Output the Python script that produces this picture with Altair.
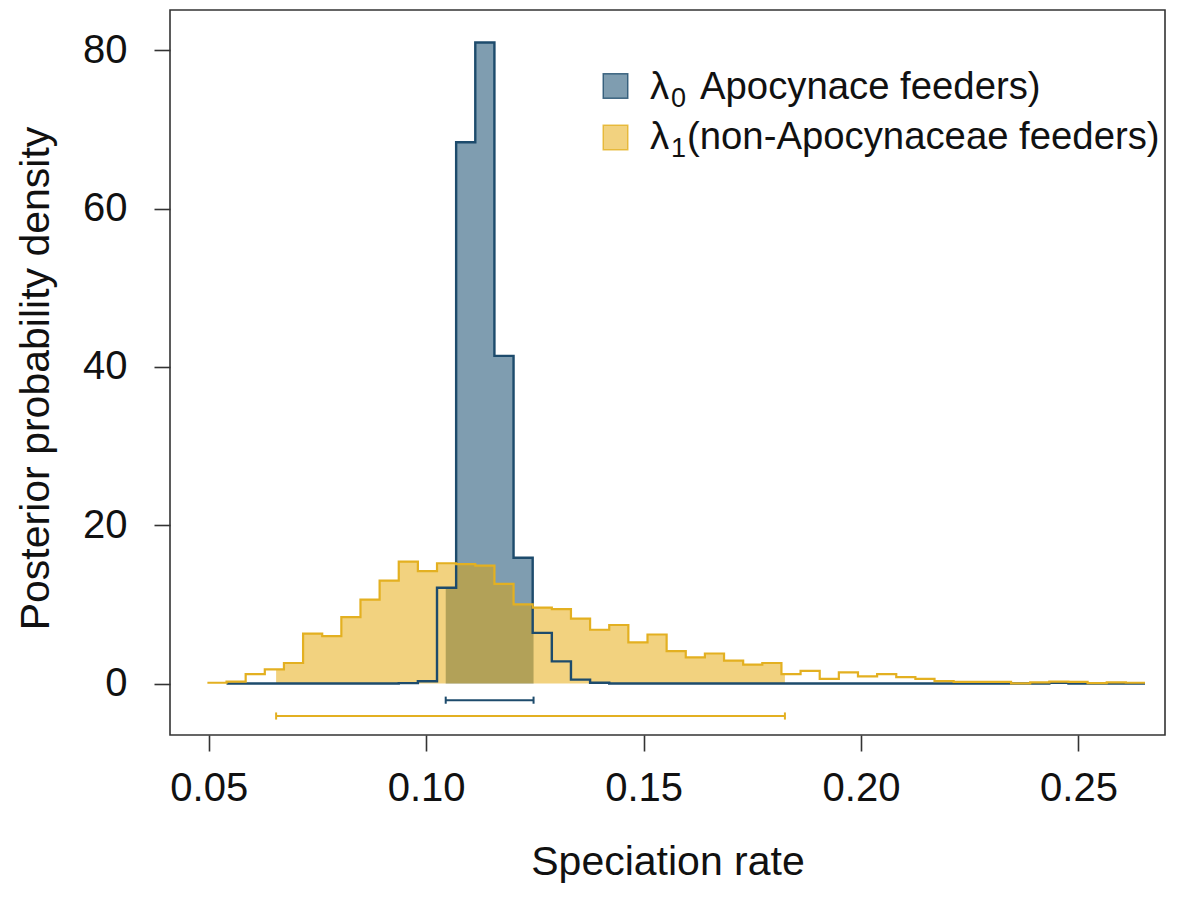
import altair as alt
import pandas as pd

# ---------------- data ----------------
bin_start = 0.0497
bin_width = 0.0044

# lambda_1 (non-Apocynaceae feeders), bins 0..48
yellow_density = [0.1, 0.25, 1.2, 1.8, 2.6, 6.3, 6.0, 8.4, 10.6, 13.0,
                  15.4, 14.2, 15.2, 15.1, 14.9, 12.6, 10.0, 9.6, 9.4, 8.2,
                  6.8, 7.4, 5.2, 6.2, 4.1, 3.3, 3.8, 2.9, 2.4, 2.6,
                  1.2, 1.6, 0.6, 1.4, 0.9, 1.2, 0.8, 0.6, 0.3, 0.2,
                  0.2, 0.2, 0.02, 0.15, 0.25, 0.2, 0.05, 0.15, 0.1]
yellow_first_bin = 0

# lambda_0 (Apocynaceae feeders), bins 1..48
blue_density = [0.0, 0.0, 0.0, 0.0, 0.0, 0.0, 0.0, 0.0, 0.0, 0.05,
                0.3, 12.1, 68.4, 81.0, 41.4, 15.9, 6.4, 2.8, 0.5, 0.1,
                0.0, 0.0, 0.0, 0.0, 0.0, 0.0, 0.0, 0.0, 0.0, 0.0,
                0.0, 0.0, 0.0, 0.0, 0.0, 0.0, 0.0, 0.0, 0.0, 0.0,
                0.0, 0.0, 0.0, 0.1, 0.0, 0.0, 0.0, 0.0]
blue_first_bin = 1

# 95% HPD intervals
blue_hpd = [0.1045, 0.1247]
yellow_hpd = [0.0655, 0.1825]

x_ticks = [0.05, 0.10, 0.15, 0.20, 0.25]
y_ticks = [0, 20, 40, 60, 80]

legend_greek = ["λ", "λ"]
legend_sub = ["0", "1"]
legend_rest = ["Apocynace feeders)", "(non-Apocynaceae feeders)"]

# ---------------- styling ----------------
FONT = "Liberation Sans"
BLUE_FILL = "#003B61"
BLUE_LINE = "#1d4b6c"
YEL_FILL = "#E5A500"
YEL_LINE = "#E3B021"
FILL_OP = 0.5

X_DOMAIN = [0.0411, 0.2699]
Y_DOMAIN = [-6.5, 85.1]


def edges_for(first_bin, dens):
    return [bin_start + (first_bin + i) * bin_width for i in range(len(dens) + 1)]


def step_table(first_bin, dens):
    e = edges_for(first_bin, dens)
    ys = list(dens) + [dens[-1]]
    return pd.DataFrame({"x": e, "d": ys})


def hpd_table(first_bin, dens, lo, hi):
    e = edges_for(first_bin, dens)

    def dens_at(v):
        idx = int((v - e[0]) // bin_width)
        idx = max(0, min(idx, len(dens) - 1))
        return dens[idx]

    xs = [lo]
    ys = [dens_at(lo)]
    for i, edge in enumerate(e[:-1]):
        if lo < edge < hi:
            xs.append(edge)
            ys.append(dens[i])
    xs.append(hi)
    ys.append(dens_at(hi))
    return pd.DataFrame({"x": xs, "d": ys})


xs = alt.Scale(domain=X_DOMAIN, nice=False, zero=False)
ys = alt.Scale(domain=Y_DOMAIN, nice=False, zero=False)

x_enc = alt.X("x:Q", scale=xs,
              axis=alt.Axis(values=x_ticks, format=".2f", title="Speciation rate",
                            titleY=139, titleBaseline="alphabetic"))
y_enc = alt.Y("d:Q", scale=ys,
              axis=alt.Axis(values=y_ticks, format="d", title="Posterior probability density",
                            titleX=-122, titleY=368, titleBaseline="alphabetic",
                            titleAngle=270, labelPadding=27))

blue_step = step_table(blue_first_bin, blue_density)
yel_step = step_table(yellow_first_bin, yellow_density)
blue_fill_df = hpd_table(blue_first_bin, blue_density, blue_hpd[0], blue_hpd[1])
yel_fill_df = hpd_table(yellow_first_bin, yellow_density, yellow_hpd[0], yellow_hpd[1])

blue_fill = alt.Chart(blue_fill_df).mark_area(
    interpolate="step-after", color=BLUE_FILL, opacity=FILL_OP
).encode(x=x_enc, y=y_enc, y2=alt.datum(0))

yel_fill = alt.Chart(yel_fill_df).mark_area(
    interpolate="step-after", color=YEL_FILL, opacity=FILL_OP
).encode(x=x_enc, y=y_enc, y2=alt.datum(0))

blue_line = alt.Chart(blue_step).mark_line(
    interpolate="step-after", color=BLUE_LINE, strokeWidth=2.4
).encode(x=x_enc, y=y_enc)

yel_line = alt.Chart(yel_step).mark_line(
    interpolate="step-after", color=YEL_LINE, strokeWidth=2.2
).encode(x=x_enc, y=y_enc)

hpd_df = pd.DataFrame({
    "lo": [blue_hpd[0], yellow_hpd[0]],
    "hi": [blue_hpd[1], yellow_hpd[1]],
})


def hpd_bar(row, level, color):
    d = hpd_df.iloc[[row]]
    bar = alt.Chart(d).mark_rule(color=color, strokeWidth=2).encode(
        x=alt.X("lo:Q", scale=xs), x2="hi:Q", y=alt.datum(level))
    cap_lo = alt.Chart(d).mark_rule(color=color, strokeWidth=2).encode(
        x=alt.X("lo:Q", scale=xs), y=alt.datum(level - 0.45), y2=alt.datum(level + 0.45))
    cap_hi = alt.Chart(d).mark_rule(color=color, strokeWidth=2).encode(
        x=alt.X("hi:Q", scale=xs), y=alt.datum(level - 0.45), y2=alt.datum(level + 0.45))
    return bar + cap_lo + cap_hi


blue_bar = hpd_bar(0, -2.1, BLUE_LINE)
yel_bar = hpd_bar(1, -4.1, YEL_LINE)

# ---------------- legend ----------------
one = pd.DataFrame({"k": [0]})
leg_layers = []
for i, (fill, stroke) in enumerate([(BLUE_FILL, BLUE_LINE), (YEL_FILL, YEL_LINE)]):
    cy = 76 + i * 51.5
    base_y = 88.5 + i * 50.5
    leg_layers.append(
        alt.Chart(one).mark_square(size=600, fill=fill, fillOpacity=FILL_OP,
                                   stroke=stroke, strokeWidth=1.5, strokeOpacity=0.8)
        .encode(x=alt.value(445.5), y=alt.value(cy)))
    leg_layers.append(
        alt.Chart(one).mark_text(text=legend_greek[i], font=FONT, fontSize=38.3, align="left",
                                 baseline="alphabetic", color="#111")
        .encode(x=alt.value(480), y=alt.value(base_y)))
    leg_layers.append(
        alt.Chart(one).mark_text(text=legend_sub[i], font=FONT, fontSize=27, align="left",
                                 baseline="alphabetic", color="#111")
        .encode(x=alt.value(501), y=alt.value(base_y + 8)))
    leg_layers.append(
        alt.Chart(one).mark_text(text=legend_rest[i], font=FONT, fontSize=38.3, align="left",
                                 baseline="alphabetic", color="#111")
        .encode(x=alt.value(530 if i == 0 else 517), y=alt.value(base_y)))

chart = alt.layer(
    blue_fill, yel_fill, blue_line, yel_line, blue_bar, yel_bar, *leg_layers
).properties(
    width=995, height=725,
    autosize=alt.AutoSizeParams(type="none"),
    padding={"left": 162, "top": 2, "right": 12, "bottom": 150},
    background="white",
).configure_view(
    stroke="#333", strokeWidth=1.6
).configure_axis(
    domain=False, grid=False,
    tickColor="#333", tickWidth=1.6, tickSize=16,
    labelFont=FONT, labelFontSize=40, labelColor="#111",
    titleFont=FONT, titleFontSize=41, titleColor="#111", titleFontWeight="normal",
    labelPadding=17,
)

chart.save("out.html", embed_options={"renderer": "svg", "actions": False})
